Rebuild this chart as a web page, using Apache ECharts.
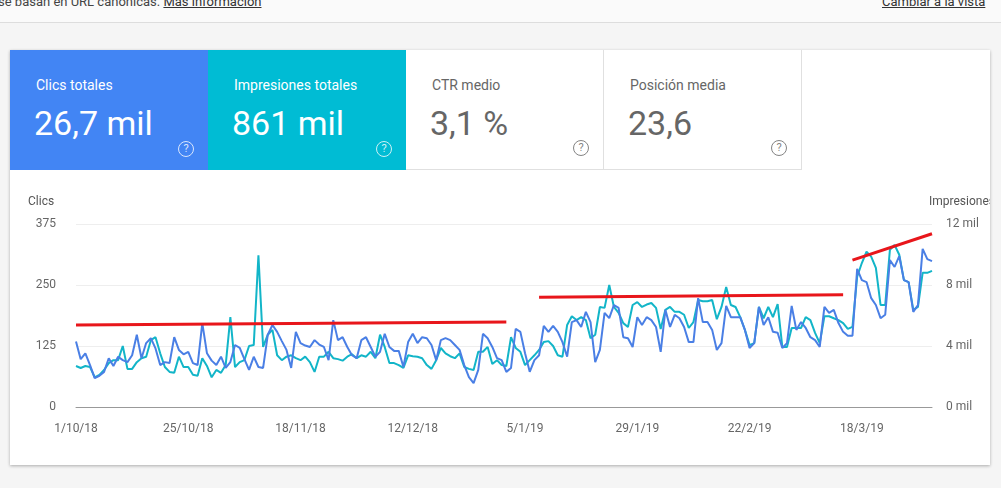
<!DOCTYPE html>
<html><head><meta charset="utf-8">
<script src="https://cdn.jsdelivr.net/npm/echarts@6/dist/echarts.min.js"></script>
<style>
body{margin:0;width:1001px;height:488px;background:#f5f5f5;font-family:Roboto,Arial,sans-serif;position:relative;overflow:hidden}
.top{position:absolute;left:0;top:0;width:1001px;height:22px;border-bottom:1px solid #ddd;background:#fafafa;font-size:13px;color:#444}
.top a{color:#333;text-decoration:underline}
.card{position:absolute;left:10px;top:50px;width:980px;height:415px;background:#fff;box-shadow:0 1px 3px rgba(0,0,0,.3)}
.tile{position:absolute;top:0;width:198px;height:120px;box-sizing:border-box}
.tile .l{position:absolute;left:26px;top:27px;font-size:14px}
.tile .v{position:absolute;left:24px;top:53px;font-size:34px}
.tile .q{position:absolute;right:14px;bottom:13px;width:14px;height:14px;border:1.5px solid currentColor;border-radius:50%;font-size:11px;text-align:center;line-height:14px;opacity:.8}
#c{position:absolute;left:10px;top:170px;width:980px;height:295px}
</style></head><body>
<div class="top"><span style="position:absolute;left:-2px;top:-6px">se basan en URL canónicas. <a>Más información</a></span><span style="position:absolute;left:882px;top:-6px"><a>Cambiar a la vista</a></span></div>
<div class="card">
<div class="tile" style="left:0;background:#4285f4;color:#fff"><div class="l">Clics totales</div><div class="v">26,7 mil</div><div class="q">?</div></div>
<div class="tile" style="left:198px;background:#00bcd4;color:#fff"><div class="l">Impresiones totales</div><div class="v">861 mil</div><div class="q">?</div></div>
<div class="tile" style="left:396px;color:#666;border-right:1px solid #e0e0e0;border-bottom:1px solid #e0e0e0"><div class="l">CTR medio</div><div class="v">3,1 %</div><div class="q">?</div></div>
<div class="tile" style="left:594px;color:#666;border-right:1px solid #e0e0e0;border-bottom:1px solid #e0e0e0"><div class="l">Posición media</div><div class="v">23,6</div><div class="q">?</div></div>
</div>
<div id="c"></div>
<script>
const startDate = [2018, 10, 1];
const clicks = [
134,98,110,86,59,64,72,100,84,103,96,92,106,148,100,131,141,120,86,92,
90,143,117,108,113,90,86,172,110,95,86,103,80,92,127,121,98,76,103,82,
80,148,168,154,135,117,80,154,131,126,123,137,128,123,96,178,137,143,123,106,100,
137,143,123,103,113,150,123,115,115,82,133,150,131,143,141,127,96,137,141,137,
127,117,86,61,49,76,150,141,123,100,96,72,80,160,154,110,72,96,106,166,
154,166,154,133,103,174,178,164,195,174,92,117,193,182,209,203,143,141,123,184,168,184,
178,164,113,199,164,189,182,164,133,133,223,174,174,158,117,131,207,184,184,184,
158,121,131,205,168,184,154,152,121,131,207,158,174,162,143,137,123,205,193,199,
172,154,146,146,283,260,256,223,209,182,189,301,287,309,260,256,195,209,324,303,299];
const impressions = [
2690,2560,2690,2620,1950,2110,2430,2880,3070,3070,4000,2500,2500,2940,3200,3300,4380,4580,3520,2620,
2300,2240,3300,2620,2620,2110,2050,3200,2690,1950,2430,2240,2750,5890,2620,2940,3070,4000,4060,9950,
3940,4740,5060,3390,3070,3300,3390,3200,3070,3300,2940,2300,3300,3300,3620,3200,3140,3040,3300,3460,3200,
3390,3300,3620,3200,4740,3940,2880,2880,2750,2560,3390,3330,3300,3200,2750,2500,3070,3870,3520,3330,
3200,3520,2620,2500,2430,3620,3620,3940,2820,3070,2750,2690,4580,3870,3620,2750,3070,3390,3740,4260,
4320,4000,3390,3300,5380,5950,5700,5890,5700,4510,4740,6560,6500,8000,6560,6180,5500,5250,6690,6880,6560,6720,
6820,6500,5120,6370,6560,6240,6240,6050,5180,5570,7010,6940,6940,7010,5760,6560,7870,6690,6560,5890,
5060,4060,4190,6560,5820,6560,5890,6750,3940,3940,5180,5180,5180,5890,5700,4860,4190,5950,5950,5820,
5700,5500,5120,5250,8540,9440,10180,9860,9120,6690,6690,10300,10620,9980,8320,8190,6370,6560,8800,8800,8930];
const clickTicks = [0,125,250,375];
const impTicks = [0,4000,8000,12000];
// red annotation trend lines: [startIndex, startClicks, endIndex, endClicks]
const trend1 = [0,168,92,174];
const trend2 = [99,225,164,230];
const trend3 = [166,301,183,355];

const dates = clicks.map((_,i)=>{const d=new Date(startDate[0],startDate[1]-1,startDate[2]+i);return d.getDate()+'/'+(d.getMonth()+1)+'/'+String(d.getFullYear()).slice(2);});
const tl = t=>[{coord:[t[0],t[1]]},{coord:[t[2],t[3]]}];
const chart = echarts.init(document.getElementById('c'));
chart.setOption({
  animation:false,
  textStyle:{fontFamily:'Roboto'},
  grid:{left:66,right:58,top:54,bottom:58},
  graphic:[
    {type:'text',left:18,top:26,style:{text:'Clics',fill:'#555',font:'12px Roboto'}},
    {type:'text',right:-5,top:26,style:{text:'Impresiones',fill:'#555',font:'12px Roboto'}}
  ],
  xAxis:{type:'category',data:dates,boundaryGap:false,
    axisLine:{lineStyle:{color:'#999'}},axisTick:{show:false},
    axisLabel:{interval:23,color:'#666',fontSize:12,margin:16}},
  yAxis:[
    {type:'value',min:clickTicks[0],max:clickTicks[3],interval:125,
      axisLabel:{color:'#666',fontSize:12,margin:20},splitLine:{lineStyle:{color:'#eee'}}},
    {type:'value',min:impTicks[0],max:impTicks[3],interval:4000,position:'right',
      axisLabel:{color:'#666',fontSize:12,margin:14,formatter:v=>v/1000+' mil'},splitLine:{show:false}}
  ],
  series:[
    {name:'Impresiones',type:'line',yAxisIndex:1,data:impressions,showSymbol:false,
      lineStyle:{color:'#12b5c8',width:2},itemStyle:{color:'#12b5c8'}},
    {name:'Clics',type:'line',data:clicks,showSymbol:false,
      lineStyle:{color:'#4a7fe5',width:2},itemStyle:{color:'#4a7fe5'},
      markLine:{symbol:'none',silent:true,label:{show:false},lineStyle:{color:'#e8161b',width:3,type:'solid'},
        data:[tl(trend1),tl(trend2),tl(trend3)]}}
  ]
});
</script>
</body></html>
